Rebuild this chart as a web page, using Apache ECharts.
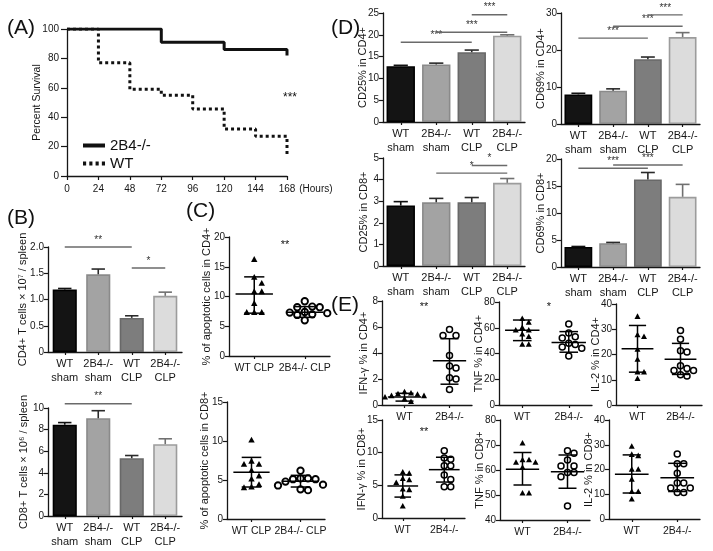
<!DOCTYPE html>
<html><head><meta charset="utf-8">
<script src="https://cdn.jsdelivr.net/npm/echarts@6/dist/echarts.min.js"></script>
<style>html,body{margin:0;padding:0;background:#fff}#c{width:713px;height:551px}</style>
</head><body><div id="c"></div>
<script>
// ---------------- DATA ----------------
// (A) survival, Kaplan-Meier steps
const koSurvHours = [0, 72, 120, 168, 168];
const koSurvPct   = [100, 91, 86, 86, 82];
const wtSurvHours = [0, 24, 48, 72, 96, 120, 144, 168, 168];
const wtSurvPct   = [100, 77, 59, 55, 45.5, 32, 27, 27, 14];

// bar categories
const barCats  = ['WT\nsham', '2B4-/-\nsham', 'WT\nCLP', '2B4-/-\nCLP'];
const clpCats  = ['WT CLP', '2B4-/- CLP'];
const geneCats = ['WT', '2B4-/-'];

// (B)
const cd4Count = [1.19, 1.48, 0.65, 1.07];
const cd4CountErr = [0.02, 0.10, 0.04, 0.07];
const cd4CountSig = [[0, 2, 2.0, '**'], [2, 3, 1.6, '*']];
const cd8Count = [8.45, 9.05, 5.35, 6.65];
const cd8CountErr = [0.2, 0.7, 0.25, 0.5];
const cd8CountSig = [[0, 2, 10.4, '**']];

// (C)
const apopCD4Wt = [16.2, 13.2, 12.2, 10.8, 10.8, 8.8, 7.3, 7.3, 7.3];
const apopCD4Ko = [9.2, 8.3, 8.2, 8.2, 7.4, 7.3, 7.2, 7.0, 6.9, 6.0];
const apopCD4Stats = [[10.4, 7.2, 13.3], [7.35, 6.5, 8.3]]; // mean, sd low, sd high
const apopCD8Wt = [10.1, 7.4, 7.0, 7.0, 6.2, 5.5, 5.1, 4.4, 4.1, 4.0];
const apopCD8Ko = [6.2, 5.2, 5.2, 5.1, 5.1, 4.8, 4.4, 4.3, 3.8, 3.7];
const apopCD8Stats = [[6.0, 4.1, 7.9], [4.85, 4.1, 5.6]];

// (D)
const cd25CD4 = [12.8, 13.2, 16.0, 19.8];
const cd25CD4Err = [0.2, 0.3, 0.5, 0.2];
const cd25CD4Sig = [[0, 2, 18.3, '***'], [1, 3, 20.6, '***'], [2, 3, 24.6, '***']];
const cd69CD4 = [8.0, 9.0, 17.5, 23.5];
const cd69CD4Err = [0.3, 0.5, 0.6, 1.2];
const cd69CD4Sig = [[0, 2, 23.2, '***'], [1, 3, 26.4, '***'], [2, 3, 29.5, '***']];
const cd25CD8 = [2.8, 2.95, 2.95, 3.85];
const cd25CD8Err = [0.18, 0.18, 0.22, 0.2];
const cd25CD8Sig = [[1, 3, 4.3, '*'], [2, 3, 4.65, '*']];
const cd69CD8 = [3.7, 4.4, 16.2, 13.0];
const cd69CD8Err = [0.1, 0.15, 1.3, 2.3];
const cd69CD8Sig = [[0, 2, 18.3, '***'], [1, 3, 18.9, '***']];

// (E)
const ifnCD4Wt = [1.0, 0.9, 0.85, 0.8, 0.7, 0.7, 0.6, 0.45, 0.25];
const ifnCD4Ko = [5.8, 5.35, 5.35, 3.8, 3.0, 2.85, 2.1, 2.0, 1.2];
const ifnCD4Stats = [[0.62, 0.3, 0.9], [3.4, 1.6, 5.1]];
const tnfCD4Wt = [67, 64, 60, 58, 58, 55, 53, 47, 47];
const tnfCD4Ko = [63, 56, 53, 52, 48, 47, 45, 44, 38];
const tnfCD4Stats = [[58, 50, 66], [48.5, 41, 57]];
const il2CD4Wt = [35, 27.7, 27, 22, 18, 13, 13, 10.4];
const il2CD4Ko = [29.5, 26, 21.5, 21, 15.5, 14.5, 13.7, 13.7, 12, 11.5];
const il2CD4Stats = [[22.3, 13, 31.5], [18.1, 12.1, 24.4]];
const ifnCD8Wt = [7.0, 6.8, 6.0, 5.8, 5.4, 4.4, 4.3, 3.3, 1.8];
const ifnCD8Ko = [10.3, 9.2, 9.0, 8.0, 8.0, 6.6, 5.9, 4.8, 4.8];
const ifnCD8Stats = [[4.9, 3.2, 6.6], [7.4, 5.5, 9.3]];
const tnfCD8Wt = [70.7, 64, 64, 63, 63, 61, 50.7, 50.7];
const tnfCD8Ko = [67.7, 66.7, 64, 61.6, 61.6, 59, 59, 57.3, 45.6];
const tnfCD8Stats = [[60.3, 54, 67], [59.3, 52.7, 66]];
const il2CD8Wt = [29.3, 26, 25.5, 20, 20, 16, 11, 11, 8];
const il2CD8Ko = [26.3, 22.3, 22.3, 18.5, 14.5, 14.5, 12.5, 12.5, 10.7, 10.7];
const il2CD8Stats = [[18.1, 10.5, 25.9], [16.7, 11.1, 22.5]];

// ---------------- STYLE / LAYOUT ----------------
const FONT = 'Liberation Sans, Arial, sans-serif';
const INK = '#161616';
const barFill = ['#141414', '#a3a3a3', '#7d7d7d', '#dcdcdc'];
const barEdge = ['#000000', '#8a8a8a', '#686868', '#9c9c9c'];
const errInk  = ['#111111', '#2a2a2a', '#2a2a2a', '#707070'];

const grids = [], xAxes = [], yAxes = [], series = [];

function axisBase() {
  return {
    axisLine: {show: true, lineStyle: {color: INK, width: 1.3}},
    axisTick: {show: true, length: 4, lineStyle: {color: INK, width: 1.2}},
    axisLabel: {color: INK, fontSize: 11, fontFamily: FONT, margin: 5},
    splitLine: {show: false}
  };
}
function addGrid(r) {
  grids.push({left: r[0], top: r[1], width: r[2], height: r[3]});
  return grids.length - 1;
}
function addY(gi, min, max, interval, name, gap, fmt) {
  const a = Object.assign(axisBase(), {
    type: 'value', gridIndex: gi, min: min, max: max, interval: interval,
    name: name, nameLocation: 'middle', nameGap: gap, nameMoveOverlap: false,
    nameTextStyle: {color: INK, fontSize: 11, fontFamily: FONT}
  });
  a.axisLabel.margin = 4;
  a.axisLabel.fontSize = 10;
  if (fmt) a.axisLabel.formatter = fmt;
  yAxes.push(a);
  return yAxes.length - 1;
}
function addXCat(gi, cats) {
  const a = Object.assign(axisBase(), {type: 'category', gridIndex: gi, data: cats, boundaryGap: true});
  a.axisTick.alignWithLabel = true;
  a.axisTick.length = 3;
  a.axisLabel.lineHeight = 14;
  a.axisLabel.interval = 0;
  xAxes.push(a);
  return xAxes.length - 1;
}

function barPanel(rect, yMax, yInt, yName, gap, vals, errs, sigs, fmt, gapPct) {
  const gi = addGrid(rect);
  const xi = addXCat(gi, barCats);
  const yi = addY(gi, 0, yMax, yInt, yName, gap, fmt);
  series.push({
    type: 'bar', xAxisIndex: xi, yAxisIndex: yi, barCategoryGap: gapPct,
    data: vals.map((v, i) => ({value: v, itemStyle: {color: barFill[i], borderColor: barEdge[i], borderWidth: 1.6}})),
    z: 2, silent: true
  });
  series.push({
    type: 'custom', xAxisIndex: xi, yAxisIndex: yi, z: 3, silent: true,
    data: vals.map((v, i) => [i, v, errs[i]]),
    renderItem: function (params, api) {
      const i = api.value(0), v = api.value(1), e = api.value(2);
      const p0 = api.coord([i, v]), p1 = api.coord([i, v + e]);
      const hw = api.size([1, 0])[0] * 0.2;
      const st = {stroke: errInk[params.dataIndex], lineWidth: 1.6};
      return {type: 'group', children: [
        {type: 'line', shape: {x1: p0[0], y1: p0[1], x2: p1[0], y2: p1[1]}, style: st},
        {type: 'line', shape: {x1: p1[0] - hw, y1: p1[1], x2: p1[0] + hw, y2: p1[1]}, style: st}
      ]};
    }
  });
  series.push({
    type: 'custom', xAxisIndex: xi, yAxisIndex: yi, z: 4, silent: true,
    data: sigs.map(s => [s[0], s[2], s[1]]),
    renderItem: function (params, api) {
      const a = api.coord([api.value(0), api.value(1)]);
      const b = api.coord([api.value(2), api.value(1)]);
      return {type: 'group', children: [
        {type: 'line', shape: {x1: a[0], y1: a[1], x2: b[0], y2: b[1]}, style: {stroke: '#6a6a6a', lineWidth: 1.4}},
        {type: 'text', x: (a[0] + b[0]) / 2, y: a[1] - 2,
         style: {text: sigs[params.dataIndex][3], fill: '#333', font: '10px ' + FONT, textAlign: 'center', textVerticalAlign: 'bottom'}}
      ]};
    }
  });
}

function swarmOffsets(ys, d) {
  const order = ys.map((y, i) => i).sort((a, b) => ys[a] - ys[b]);
  const offs = new Array(ys.length).fill(0);
  const placed = [];
  for (const i of order) {
    let chosen = 0;
    for (let k = 0; k < 14; k++) {
      const cand = k === 0 ? 0 : (k % 2 ? 1 : -1) * Math.ceil(k / 2) * d;
      let ok = true;
      for (const j of placed) {
        const dx = offs[j] - cand, dy = ys[j] - ys[i];
        if (dx * dx + dy * dy < d * d * 0.9) { ok = false; break; }
      }
      if (ok) { chosen = cand; break; }
    }
    offs[i] = chosen; placed.push(i);
  }
  return offs;
}

function pointSeries(xi, yi, cat, pts, shape, big) {
  series.push({
    type: 'custom', xAxisIndex: xi, yAxisIndex: yi, z: 5, silent: true,
    data: pts.map(v => [cat, v]),
    renderItem: function (params, api) {
      const ys = pts.map(v => api.coord([cat, v])[1]);
      const offs = swarmOffsets(ys, big ? 7.5 : 6.5);
      const c = api.coord([cat, api.value(1)]);
      const x = c[0] + offs[params.dataIndex], y = c[1];
      if (shape === 'tri') {
        const s = big ? 3.2 : 3.0;
        return {type: 'polygon', shape: {points: [[x, y - s * 1.1], [x - s, y + s * 0.75], [x + s, y + s * 0.75]]}, style: {fill: '#000'}};
      }
      return {type: 'circle', shape: {cx: x, cy: y, r: big ? 3.2 : 3.0}, style: {fill: null, stroke: '#000', lineWidth: big ? 1.9 : 1.5}};
    }
  });
}

function scatterPanel(rect, cats, yMin, yMax, yInt, yName, gap, wt, ko, stats, big) {
  const gi = addGrid(rect);
  const xi = addXCat(gi, cats);
  xAxes[xi].axisLabel.fontSize = 10.5;
  const yi = addY(gi, yMin, yMax, yInt, yName, gap);
  series.push({
    type: 'custom', xAxisIndex: xi, yAxisIndex: yi, z: 4, silent: true,
    data: stats.map((s, i) => [i, s[0], s[1], s[2]]),
    renderItem: function (params, api) {
      const i = api.value(0);
      const m = api.coord([i, api.value(1)]), lo = api.coord([i, api.value(2)]), hi = api.coord([i, api.value(3)]);
      const bw = api.size([1, 0])[0];
      const mw = bw * 0.37, cw = bw * 0.2;
      const st = {stroke: '#000', lineWidth: 1.5};
      return {type: 'group', children: [
        {type: 'line', shape: {x1: m[0] - mw, y1: m[1], x2: m[0] + mw, y2: m[1]}, style: st},
        {type: 'line', shape: {x1: lo[0], y1: lo[1], x2: hi[0], y2: hi[1]}, style: st},
        {type: 'line', shape: {x1: lo[0] - cw, y1: lo[1], x2: lo[0] + cw, y2: lo[1]}, style: st},
        {type: 'line', shape: {x1: hi[0] - cw, y1: hi[1], x2: hi[0] + cw, y2: hi[1]}, style: st}
      ]};
    }
  });
  pointSeries(xi, yi, 0, wt, 'tri', big);
  pointSeries(xi, yi, 1, ko, 'circ', big);
}

// ---------------- (A) survival ----------------
(function () {
  const gi = addGrid([67, 29, 220, 147]);
  const xa = Object.assign(axisBase(), {
    type: 'value', gridIndex: gi, min: 0, max: 168, interval: 24,
    name: '(Hours)', nameLocation: 'end', nameGap: 6,
    nameTextStyle: {color: INK, fontSize: 10, fontFamily: FONT, align: 'left', verticalAlign: 'top', padding: [8, 0, 0, 0]}
  });
  xa.axisLabel.fontSize = 10;
  xa.axisLabel.margin = 8;
  xAxes.push(xa);
  const yi = addY(gi, 0, 100, 20, 'Percent Survival', 24);
  yAxes[yi].axisLabel.fontSize = 10;
  yAxes[yi].axisLabel.margin = 8;
  yAxes[yi].axisTick.length = 6;
  yAxes[yi].nameTextStyle.fontSize = 10.5;
  const xi = xAxes.length - 1;
  series.push({
    name: 'WT', type: 'line', step: 'end', xAxisIndex: xi, yAxisIndex: yi, showSymbol: false, symbol: 'none',
    data: wtSurvHours.map((h, i) => [h, wtSurvPct[i]]),
    lineStyle: {color: '#111', width: 3, type: [3, 3]}, itemStyle: {color: '#111'}, z: 2
  });
  series.push({
    name: '2B4-/-', type: 'line', step: 'end', xAxisIndex: xi, yAxisIndex: yi, showSymbol: false, symbol: 'none',
    data: koSurvHours.map((h, i) => [h, koSurvPct[i]]),
    lineStyle: {color: '#111', width: 3}, itemStyle: {color: '#111'}, z: 3
  });
})();

// ---------------- (B) ----------------
const fmt1 = v => (v === 0 ? '0' : v.toFixed(1));
barPanel([48, 247, 134, 105], 2, 0.5, 'CD4+ T cells × 10⁷ / spleen', 20, cd4Count, cd4CountErr, cd4CountSig, fmt1, '28%');
barPanel([48, 408, 134, 108], 10, 2, 'CD8+ T cells × 10⁶ / spleen', 19, cd8Count, cd8CountErr, cd8CountSig, null, '28%');

// ---------------- (C) ----------------
scatterPanel([229, 237, 101, 119], clpCats, 0, 20, 5, '% of apoptotic cells in CD4+', 17, apopCD4Wt, apopCD4Ko, apopCD4Stats, true);
scatterPanel([227, 402, 98, 117], clpCats, 0, 15, 5, '% of apoptotic cells in CD8+', 17, apopCD8Wt, apopCD8Ko, apopCD8Stats, true);

// ---------------- (D) ----------------
barPanel([383, 13, 142, 109], 25, 5, 'CD25% in CD4+', 15, cd25CD4, cd25CD4Err, cd25CD4Sig, null, '20%');
barPanel([561, 13, 139, 111], 30, 10, 'CD69% in CD4+', 15, cd69CD4, cd69CD4Err, cd69CD4Sig, null, '20%');
barPanel([383, 158, 142, 108], 5, 1, 'CD25% in CD8+', 14, cd25CD8, cd25CD8Err, cd25CD8Sig, null, '20%');
barPanel([561, 159, 139, 108], 20, 5, 'CD69% in CD8+', 15, cd69CD8, cd69CD8Err, cd69CD8Sig, null, '20%');

// ---------------- (E) ----------------
scatterPanel([382, 301, 90, 104], geneCats, 0, 8, 2, 'IFN-γ % in CD4+', 13, ifnCD4Wt, ifnCD4Ko, ifnCD4Stats, false);
scatterPanel([499, 302, 93, 103], geneCats, 0, 80, 20, 'TNF % in CD4+', 15, tnfCD4Wt, tnfCD4Ko, tnfCD4Stats, false);
scatterPanel([616, 304, 86, 101], geneCats, 0, 40, 10, 'IL-2 % in CD4+', 15, il2CD4Wt, il2CD4Ko, il2CD4Stats, false);
scatterPanel([382, 420, 83, 98], geneCats, 0, 15, 5, 'IFN-γ % in CD8+', 15, ifnCD8Wt, ifnCD8Ko, ifnCD8Stats, false);
scatterPanel([500, 420, 90, 100], geneCats, 40, 80, 10, 'TNF % in CD8+', 15, tnfCD8Wt, tnfCD8Ko, tnfCD8Stats, false);
scatterPanel([609, 420, 91, 99], geneCats, 0, 40, 10, 'IL-2 % in CD8+', 15, il2CD8Wt, il2CD8Ko, il2CD8Stats, false);

// ---------------- labels ----------------
function txt(x, y, s, size, align) {
  return {type: 'text', x: x, y: y, style: {text: s, fill: '#111', font: size + 'px ' + FONT, textAlign: align || 'left', textVerticalAlign: 'middle'}};
}
const graphics = [
  txt(7, 28, '(A)', 21), txt(7, 218, '(B)', 21), txt(186, 211, '(C)', 21),
  txt(331, 28, '(D)', 21), txt(331, 305, '(E)', 21),
  txt(290, 98, '***', 12, 'center'),
  txt(285, 245, '**', 11, 'center'),
  txt(424, 307, '**', 11, 'center'),
  txt(549, 307, '*', 11, 'center'),
  txt(424, 432, '**', 11, 'center')
];

const chart = echarts.init(document.getElementById('c'), null, {renderer: 'canvas'});
chart.setOption({
  animation: false,
  backgroundColor: '#ffffff',
  textStyle: {fontFamily: FONT},
  grid: grids, xAxis: xAxes, yAxis: yAxes, series: series,
  legend: {
    data: [
      {name: '2B4-/-', icon: 'path://M0 0H22V4H0Z'},
      {name: 'WT', icon: 'path://M0 0H3V4H0ZM6 0H9V4H6ZM12 0H15V4H12ZM18 0H21V4H18Z'}
    ],
    orient: 'vertical', left: 78, top: 133, itemGap: 3,
    itemWidth: 22, itemHeight: 10, itemStyle: {color: '#111'},
    textStyle: {fontSize: 15, color: '#111', fontFamily: FONT}, selectedMode: false
  },
  graphic: graphics
});
</script></body></html>
